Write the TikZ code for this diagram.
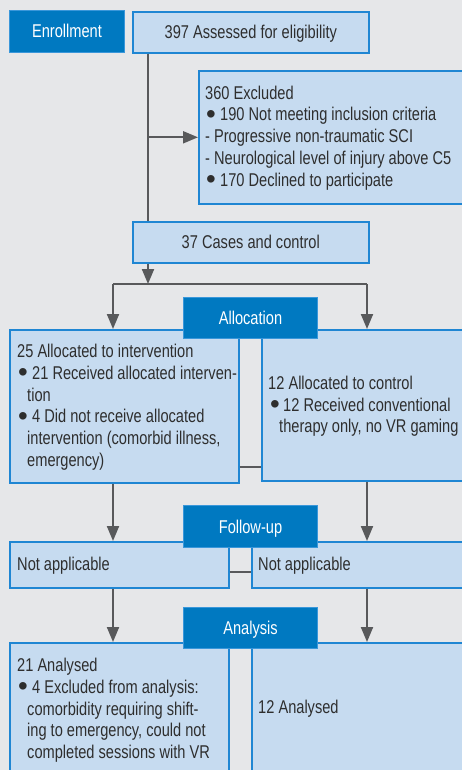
\documentclass[tikz,border=0pt]{standalone}
\usepackage{fontspec}
\usepackage{graphicx}
\setmainfont{Liberation Sans}[FakeStretch=0.79]
\usetikzlibrary{arrows.meta}
\definecolor{bg}{HTML}{E6E7E9}
\definecolor{lightfill}{HTML}{C6DBF0}
\definecolor{lightedge}{HTML}{1F86D3}
\definecolor{darkblue}{HTML}{0079C1}
\definecolor{labeledge}{HTML}{3A97DA}
\definecolor{linegray}{HTML}{58595B}
\definecolor{txt}{HTML}{2E2E2E}
\newcommand\myfs{\fontsize{18.5}{21.7}\selectfont}
\newcommand\mybul[1]{\makebox[#1][l]{\raisebox{-2.3pt}{\scalebox{1.9}[1.5]{•}}}}
\begin{document}
\begin{tikzpicture}[x=1pt,y=-1pt,
  lbox/.style={draw=lightedge, fill=lightfill, line width=1.6pt, inner sep=0pt,
    text=txt, font=\myfs, text height=13pt, text depth=0pt, anchor=north west},
  lab/.style={draw=labeledge, fill=darkblue, line width=1pt, inner sep=0pt,
    text=white, font=\myfs, text height=13pt, text depth=0pt, anchor=north west,
    minimum width=134pt},
  tx/.style={anchor=base west, inner sep=0pt, text=txt, font=\myfs},
  conn/.style={draw=linegray, line width=2pt},
  arr/.style={conn, -{Triangle[length=15pt,width=12pt]}}]
\useasboundingbox (0,0) rectangle (462,770);
\clip (0,0) rectangle (462,770);
\fill[bg] (0,0) rectangle (462,770);

% coordinates for connector columns
\coordinate (t1) at (148,0);
\coordinate (split) at (0,284);
\coordinate (lc) at (113,284);
\coordinate (rc) at (367,284);
\coordinate (h1) at (0,467);
\coordinate (h2) at (0,572);

% boxes
\node[lbox, minimum width=236pt, minimum height=41pt] (b397) at (132,11) {397 Assessed for eligibility};
\node[lbox, minimum width=280pt, minimum height=133pt] (excl) at (198,70) {};
\node[lbox, minimum width=236pt, minimum height=41pt] (b37) at (132,221) {37 Cases and control};
\node[lbox, minimum width=229pt, minimum height=153pt] (al1) at (9,329) {};
\node[lbox, minimum width=220pt, minimum height=151pt] (al2) at (261,329) {};
\node[lbox, minimum width=219pt, minimum height=46pt] (na1) at (9,541) {};
\node[lbox, minimum width=230pt, minimum height=46pt] (na2) at (251,541) {};
\node[lbox, minimum width=219pt, minimum height=140pt] (an1) at (9,642) {};
\node[lbox, minimum width=230pt, minimum height=140pt] (an2) at (251,642) {};

% connectors
\draw[conn] (t1 |- b397.south) -- (t1 |- b37.north);
\draw[arr] (t1 |- excl.west) -- (excl.west);
\draw[arr] (t1 |- b37.south) -- (t1 |- split);
\draw[conn] (lc) -- (rc);
\draw[arr] (lc) -- (lc |- al1.north);
\draw[arr] (rc) -- (rc |- al2.north);
\draw[conn] (al1.east |- h1) -- (al2.west |- h1);
\draw[arr] (lc |- al1.south) -- (lc |- na1.north);
\draw[arr] (rc |- al2.south) -- (rc |- na2.north);
\draw[conn] (na1.east |- h2) -- (na2.west |- h2);
\draw[arr] (lc |- na1.south) -- (lc |- an1.north);
\draw[arr] (rc |- na2.south) -- (rc |- an2.north);

% stage labels
\node[lab, minimum width=115pt, minimum height=42pt] (enr) at (9,10) {Enrollment};
\node[lab, minimum height=41pt] (alloc) at (183,297) {Allocation};
\node[lab, minimum height=42pt] (fup) at (183,505) {Follow-up};
\node[lab, minimum height=41pt] (anl) at (183,607) {Analysis};

% excluded text
\node[tx] (e1) at (205,99.3) {360 Excluded};
\node[tx] (e2) at (206,121) {\mybul{14pt}190 Not meeting inclusion criteria};
\node[tx] (e3) at (205,142.7) {- Progressive non-traumatic SCI};
\node[tx] (e4) at (205,164.3) {- Neurological level of injury above C5};
\node[tx] (e5) at (206,186) {\mybul{14pt}170 Declined to participate};

% allocation intervention
\node[tx] (a1) at (17,357.7) {25 Allocated to intervention};
\node[tx] (a2) at (18,379.3) {\mybul{14pt}21 Received allocated interven-};
\node[tx] (a3) at (27,401) {tion};
\node[tx] (a4) at (18,422.7) {\mybul{14pt}4 Did not receive allocated};
\node[tx] (a5) at (27,444.3) {intervention (comorbid illness,};
\node[tx] (a6) at (27,466) {emergency)};

% allocation control
\node[tx] (c1) at (268,389.3) {12 Allocated to control};
\node[tx] (c2) at (270,411) {\mybul{13pt}12 Received conventional};
\node[tx] (c3) at (279,432.7) {therapy only, no VR gaming};

% follow-up
\node[tx] (f1) at (17,570) {Not applicable};
\node[tx] (f2) at (258,570) {Not applicable};

% analysis
\node[tx] (n1) at (17,671.7) {21 Analysed};
\node[tx] (n2) at (18,693.3) {\mybul{14pt}4 Excluded from analysis:};
\node[tx] (n3) at (27,715) {comorbidity requiring shift-};
\node[tx] (n4) at (27,736.7) {ing to emergency, could not};
\node[tx] (n5) at (27,758.3) {completed sessions with VR};
\node[tx] (m1) at (258,713.3) {12 Analysed};
\end{tikzpicture}
\end{document}
